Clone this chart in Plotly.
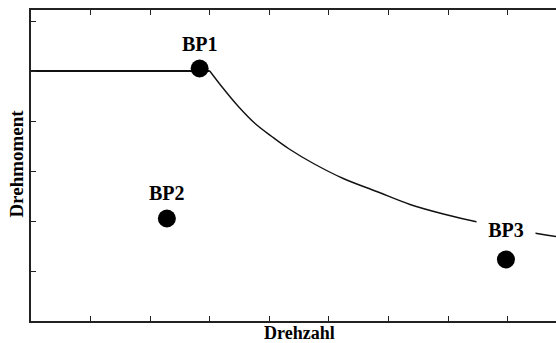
import plotly.graph_objects as go

# Data (arbitrary units)
flat_n = [0.0, 3.0]
flat_t = [5.0, 5.0]

curve_n = [3.0, 3.20, 3.48, 3.76, 4.04, 4.32, 4.74, 5.24, 5.80, 6.36, 6.92, 7.53, 8.54, 8.81]
curve_t = [5.0, 4.69, 4.29, 3.95, 3.69, 3.45, 3.15, 2.85, 2.59, 2.33, 2.14, 1.97, 1.74, 1.69]

bp_labels = ["BP1", "BP2", "BP3"]
bp_n = [2.83, 2.28, 7.97]
bp_t = [5.05, 2.05, 1.23]

FONT = "Liberation Serif"
INK = "#111111"

fig = go.Figure()
fig.add_trace(go.Scatter(x=flat_n, y=flat_t, mode="lines",
                         line=dict(color=INK, width=1.8), hoverinfo="skip"))
fig.add_trace(go.Scatter(x=curve_n, y=curve_t, mode="lines",
                         line=dict(color=INK, width=1.4, shape="spline", smoothing=1.0),
                         hoverinfo="skip"))
fig.add_trace(go.Scatter(x=bp_n, y=bp_t, mode="markers",
                         marker=dict(color="black", size=18), hoverinfo="skip"))

shifts = [25, 26, 30]
for lab, xn, yt, sh in zip(bp_labels, bp_n, bp_t, shifts):
    extra = {}
    if lab == "BP3":
        extra = dict(bgcolor="white", width=58, height=20, borderpad=0)
    fig.add_annotation(x=xn, y=yt, text=lab, showarrow=False, yshift=sh,
                       xanchor="center", yanchor="middle",
                       font=dict(family=FONT, size=20, color="black", weight="bold"),
                       **extra)

fig.add_annotation(xref="paper", yref="paper", x=0.5105, y=0, yshift=0,
                   text="Drehzahl", showarrow=False, xanchor="center", yanchor="top",
                   font=dict(family=FONT, size=18, color="black", weight="bold"))
fig.add_annotation(xref="paper", yref="paper", x=-0.0267, y=0.506,
                   text="Drehmoment", showarrow=False, textangle=-90,
                   xanchor="center", yanchor="middle",
                   font=dict(family=FONT, size=19, color="black", weight="bold"))

fig.update_xaxes(range=[0, 8.81], tick0=0, dtick=1, ticks="inside", ticklen=5,
                 tickcolor="#222", tickwidth=1.2, showticklabels=False,
                 showline=True, linecolor="#222", linewidth=1.5, mirror="ticks",
                 showgrid=False, zeroline=False)
fig.update_yaxes(range=[0, 6.22], tick0=0, dtick=1, ticks="inside", ticklen=5,
                 tickcolor="#222", tickwidth=1.2, showticklabels=False,
                 showline=True, linecolor="#222", linewidth=1.5, mirror=False,
                 showgrid=False, zeroline=False)

fig.update_layout(width=556, height=343, margin=dict(l=31, r=0, t=10, b=22),
                  plot_bgcolor="white", paper_bgcolor="white", showlegend=False)

fig.write_html("out.html")
